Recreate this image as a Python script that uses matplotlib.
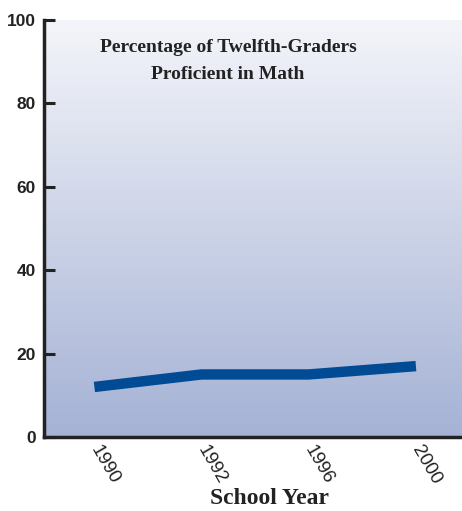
import matplotlib
matplotlib.use("Agg")
import matplotlib.pyplot as plt
import numpy as np
from matplotlib.colors import LinearSegmentedColormap

years = ["1990", "1992", "1996", "2000"]
percent = [12, 15, 15, 17]
yticks = [0, 20, 40, 60, 80, 100]

fig = plt.figure(figsize=(4.62, 5.11), dpi=100)
ax = fig.add_axes([44/462, 74/511, 1 - 44/462, (437-20)/511])

x = np.arange(len(years))
xlim = (-0.47, 3.43)
ax.set_xlim(*xlim)
ax.set_ylim(0, 100)

cmap = LinearSegmentedColormap.from_list("bg", ["#a5b2d5", "#f4f5fa"])
grad = np.linspace(0, 1, 256).reshape(-1, 1)
ax.imshow(grad, aspect="auto", cmap=cmap, origin="lower",
          extent=[xlim[0], xlim[1], 0, 100], zorder=0)

ax.plot(x, percent, color="#004b93", linewidth=7.5, solid_capstyle="butt", zorder=3)

ax.set_xticks(x)
ax.set_xticklabels(years, rotation=-60, ha="left", va="center", rotation_mode="anchor",
                   fontsize=13.5, fontfamily="Liberation Sans", color="#222222")
ax.set_yticks(yticks)
ax.set_yticklabels([str(v) for v in yticks], fontsize=12.5, fontweight="bold",
                   fontfamily="Liberation Sans", color="#222222")
ax.tick_params(axis="x", length=0, pad=7)
ax.tick_params(axis="y", direction="in", length=8, width=2.2, color="#222222", pad=6)

for s in ["top", "right"]:
    ax.spines[s].set_visible(False)
for s in ["left", "bottom"]:
    ax.spines[s].set_linewidth(2.5)
    ax.spines[s].set_color("#222222")

ax.text(0.44, 1 - (61 - 20) / 417, "Percentage of Twelfth-Graders\nProficient in Math",
        transform=ax.transAxes, ha="center", va="center", fontsize=14,
        fontweight="bold", fontfamily="Liberation Serif", color="#222222",
        linespacing=1.75)

fig.text(270/462, 1 - 498/511, "School Year", ha="center", va="center",
         fontsize=17, fontweight="bold", fontfamily="Liberation Serif", color="#222222")

fig.savefig("out.png", dpi=100)
